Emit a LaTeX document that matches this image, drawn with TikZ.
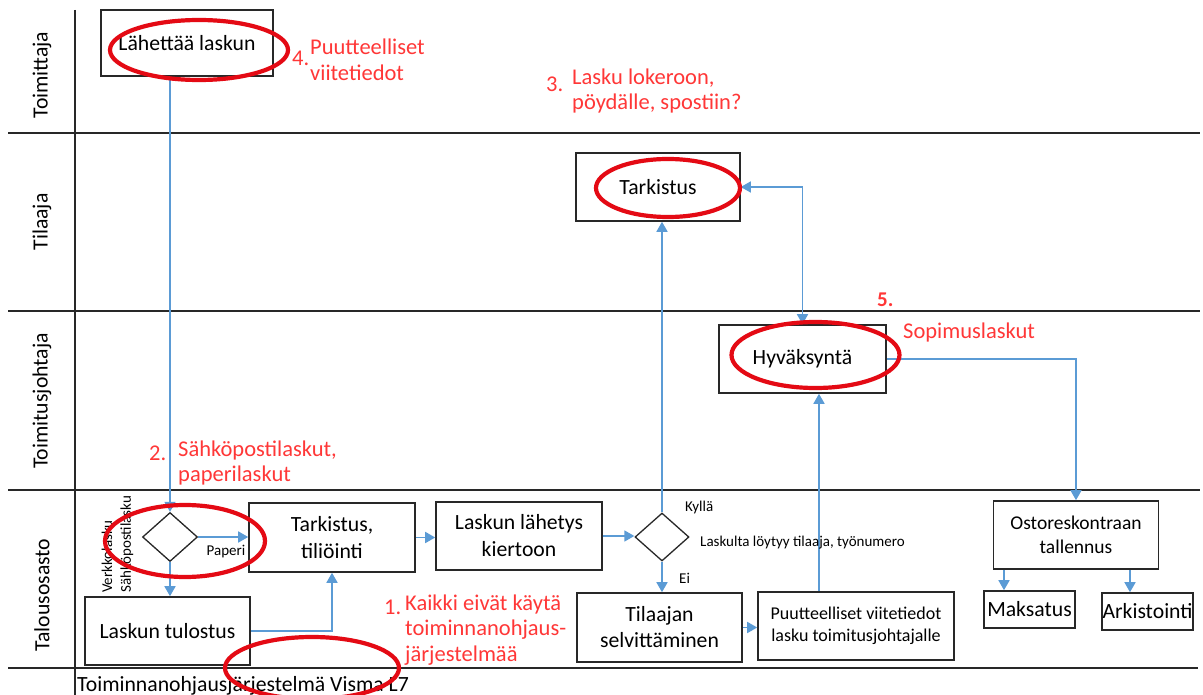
\documentclass[tikz,border=0pt]{standalone}
\usepackage{fontspec}
\setmainfont{Carlito}
\usetikzlibrary{arrows.meta,shapes.geometric,calc}
\definecolor{flowblue}{RGB}{91,155,213}
\definecolor{notered}{RGB}{255,55,55}
\definecolor{ringred}{RGB}{228,10,20}
\definecolor{inkgray}{RGB}{40,40,40}
\newcommand\setfs[2]{\fontsize{#1}{#2}\selectfont}
\tikzset{
  lane/.style={draw=inkgray, line width=1.6pt},
  box/.style={draw=inkgray, line width=1.6pt, align=center, inner sep=0pt, text=black, font=\setfs{21.7}{27}},
  dec/.style={draw=inkgray, diamond, line width=1.3pt, inner sep=0pt},
  flow/.style={draw=flowblue, line width=1.6pt, -{Triangle[length=10pt,width=11pt]}},
  flowboth/.style={draw=flowblue, line width=1.6pt, {Triangle[length=10pt,width=11pt]}-{Triangle[length=10pt,width=11pt]}},
  note/.style={text=notered, font=\setfs{22.5}{25.8}, align=left, inner sep=0pt},
  ring/.style={draw=ringred, line width=4.2pt},
  small/.style={font=\setfs{15}{18}, inner sep=0pt, text=black},
  lanelabel/.style={rotate=90, font=\setfs{21.7}{26}, inner sep=0pt, text=black},
}
\begin{document}
\begin{tikzpicture}[x=1pt,y=-1pt]
\useasboundingbox[fill=white] (0,0) rectangle (1203,695);

% swimlane grid
\draw[lane] (8,133) -- (1200,133);
\draw[lane] (8,311) -- (1200,311);
\draw[lane] (8,490) -- (1200,490);
\draw[lane] (8,668) -- (1198,668);
\draw[lane] (75,10) -- (75,695);

% lane titles
\node[lanelabel] (lToim) at (42,75) {Toimittaja};
\node[lanelabel] (lTil) at (42,222) {Tilaaja};
\node[lanelabel] (lTj) at (42,401) {Toimitusjohtaja};
\node[lanelabel] (lTal) at (42,595) {Talousosasto};

% process boxes
\node[box, minimum width=172, minimum height=66] (send) at (187,43) {Lähettää laskun};
\node[box, minimum width=164, minimum height=68] (tark) at (658,187) {Tarkistus};
\node[box, minimum width=167, minimum height=68] (hyv) at (802.5,359) {Hyväksyntä};
\node[box, minimum width=166, minimum height=69] (tilioi) at (332,537.5) {Tarkistus,\\tiliöinti};
\node[box, minimum width=165, minimum height=68] (tulos) at (167.5,631) {Laskun tulostus};
\node[box, minimum width=166, minimum height=68] (kierto) at (519,536) {Laskun lähetys\\kiertoon};
\node[box, minimum width=165, minimum height=69, font=\setfs{21.7}{26}] (selv) at (659.5,627.5) {Tilaajan\\selvittäminen};
\node[box, minimum width=196, minimum height=68, font=\setfs{18}{22}] (puut) at (856,626) {Puutteelliset viitetiedot\\lasku toimitusjohtajalle};
\node[box, minimum width=165, minimum height=68, font=\setfs{19.5}{24.5}] (osto) at (1076,535) {Ostoreskontraan\\tallennus};
\node[box, minimum width=91, minimum height=37] (maks) at (1029.5,609.5) {Maksatus};
\node[box, minimum width=91, minimum height=37] (arki) at (1147.5,611.5) {Arkistointi};

% decisions
\node[dec, minimum width=55, minimum height=49] (d1) at (170,537) {};
\node[dec, minimum width=54, minimum height=48] (d2) at (662,537) {};

% connector columns
\coordinate (cPuut) at (819,0);
\coordinate (cMaks) at (1004,0);
\coordinate (cArki) at (1130,0);

% connectors
\draw[flow] (send.south -| d1.north) -- (d1.north);
\draw[flow] (d1.east) -- (d1.east -| tilioi.west);
\draw[flow] (d1.south) -- (d1.south |- tulos.north);
\draw[flow] (tulos.east) -| (tilioi.south);
\draw[flow] (tilioi.east) -- (tilioi.east -| kierto.west);
\draw[flow] (kierto.east) -- (kierto.east -| d2.west);
\draw[flow] (d2.north) -- (d2.north |- tark.south);
\draw[flow] (d2.south) -- (d2.south |- selv.north);
\draw[flow] (selv.east) -- (selv.east -| puut.west);
\draw[flow] (cPuut |- puut.north) -- (cPuut |- hyv.south);
\draw[flowboth] (tark.east) -| (hyv.north);
\draw[flow] (hyv.east) -| (osto.north);
\draw[flow] (cMaks |- osto.south) -- (cMaks |- maks.north);
\draw[flow] (cArki |- osto.south) -- (cArki |- arki.north);

% branch labels
\node[small, anchor=center] (lPap) at (226,552) {Paperi};
\node[small, anchor=west] (lKyl) at (685,507) {Kyllä};
\node[small, anchor=west] (lLoy) at (700,543) {Laskulta löytyy tilaaja, työnumero};
\node[small, anchor=west] (lEi) at (679,578) {Ei};
\node[small, rotate=90, anchor=west] (lVerk) at (107,593) {Verkkolasku};
\node[small, rotate=90, anchor=west] (lSahk) at (127,593) {Sähköpostilasku};

% footer
\node[anchor=west, inner sep=0pt, font=\setfs{21.7}{26}] (foot) at (77,686) {Toiminnanohjausjärjestelmä Visma L7};

% numbered remarks
\node[note, anchor=west] (n4) at (292,58) {4.};
\node[note, anchor=west] (t4) at (310,60) {Puutteelliset\\viitetiedot};
\node[note, anchor=west] (n3) at (546,84) {3.};
\node[note, anchor=west] (t3) at (572,91) {Lasku lokeroon,\\pöydälle, spostiin?};
\node[note, anchor=west] (n2) at (149,453) {2.};
\node[note, anchor=west] (t2) at (178,463) {Sähköpostilaskut,\\paperilaskut};
\node[note, anchor=west] (n1) at (384,607) {1.};
\node[note, anchor=west] (t1) at (405,630) {Kaikki eivät käytä\\toiminnanohjaus-\\järjestelmää};
\node[note, anchor=west, font=\bfseries\setfs{21}{25}] (n5) at (877,300) {5.};
\node[note, anchor=west] (t5) at (903,333) {Sopimuslaskut};

% highlight rings
\draw[ring] (199,50) ellipse [x radius=89, y radius=30];
\draw[ring] (668,188) ellipse [x radius=72, y radius=29];
\draw[ring] (815.5,355) ellipse [x radius=84, y radius=33];
\draw[ring] (185,541) ellipse [x radius=80, y radius=36];
\draw[ring] (312,668) ellipse [x radius=87, y radius=31];
\end{tikzpicture}
\end{document}
